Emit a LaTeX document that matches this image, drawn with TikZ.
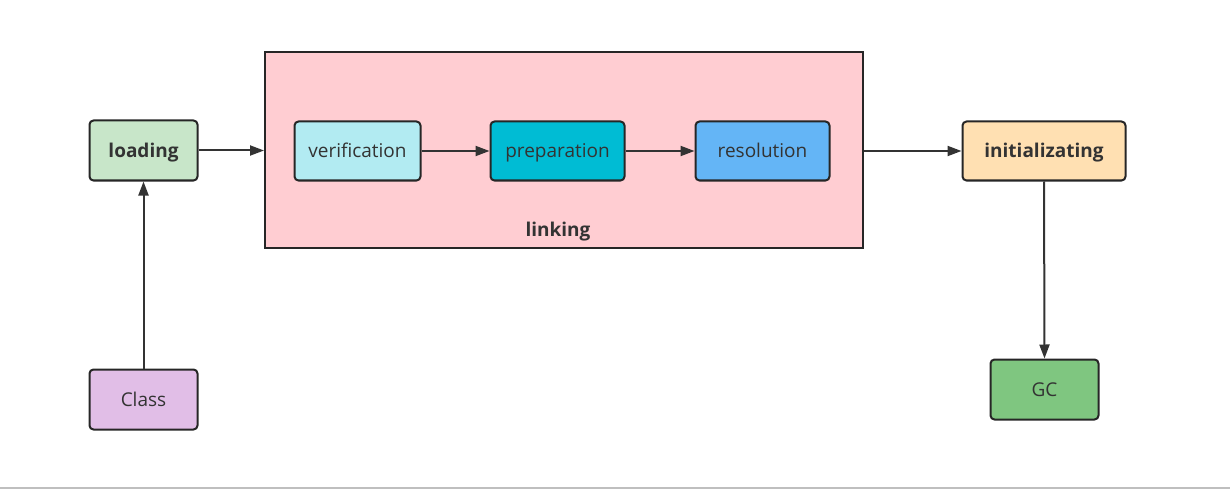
\documentclass[tikz,border=0pt]{standalone}
\usepackage{fontspec}
\setmainfont{Open Sans}
\usetikzlibrary{arrows.meta}
\definecolor{strokec}{HTML}{262626}
\definecolor{textc}{HTML}{333333}
\definecolor{cload}{HTML}{C8E6C9}
\definecolor{cver}{HTML}{B2EBF2}
\definecolor{cprep}{HTML}{00BCD4}
\definecolor{cres}{HTML}{64B5F6}
\definecolor{cinit}{HTML}{FFE0B2}
\definecolor{cclass}{HTML}{E1BEE7}
\definecolor{cgc}{HTML}{7FC680}
\definecolor{clink}{HTML}{FFCDD2}
\tikzset{
  boxst/.style={draw=strokec, line width=2pt, rounded corners=4pt, text=textc,
    font=\fontsize{19}{23}\selectfont, inner sep=0pt, text height=16pt, text depth=2pt},
  boldst/.style={font=\fontsize{19}{23}\selectfont\bfseries},
  conn/.style={draw=textc, line width=2pt, -{Triangle[length=14pt,width=10pt]}}
}
\begin{document}
\begin{tikzpicture}[x=1pt,y=-1pt]
\useasboundingbox (0,0) rectangle (1230,489);
\draw[color=black!25, line width=1.5pt] (0,488) -- (1230,488);
% linking container
\node[draw=strokec, line width=2pt, fill=clink, minimum width=598pt, minimum height=196pt, inner sep=0pt] (linking) at (564,150) {};
\node[text=textc, boldst, inner sep=0pt, text height=16pt, text depth=2pt] (linklabel) at (558,229) {linking};
% nodes
\node[boxst, boldst, fill=cload, minimum width=108pt, minimum height=60pt] (loading) at (143.5,150.5) {loading};
\node[boxst, fill=cclass, minimum width=108pt, minimum height=60pt] (class) at (143.5,399.5) {Class};
\node[boxst, fill=cver, minimum width=126pt, minimum height=59pt] (ver) at (357.5,151) {verification};
\node[boxst, fill=cprep, minimum width=134pt, minimum height=59pt] (prep) at (557.5,151) {preparation};
\node[boxst, fill=cres, minimum width=134pt, minimum height=59pt] (res) at (762.5,151) {resolution};
\node[boxst, boldst, fill=cinit, minimum width=163pt, minimum height=59pt] (init) at (1044,151) {initializating};
\node[boxst, fill=cgc, minimum width=108pt, minimum height=60pt] (gc) at (1044.5,389.5) {GC};
% connectors
\draw[conn] (loading.east) -- (linking.west |- loading.east);
\draw[conn] (class.north) -- (loading.south);
\draw[conn] (ver.east) -- (prep.west);
\draw[conn] (prep.east) -- (res.west);
\draw[conn] (linking.east |- init.west) -- (init.west);
\draw[conn] (init.south) -- (gc.north);
\end{tikzpicture}
\end{document}
